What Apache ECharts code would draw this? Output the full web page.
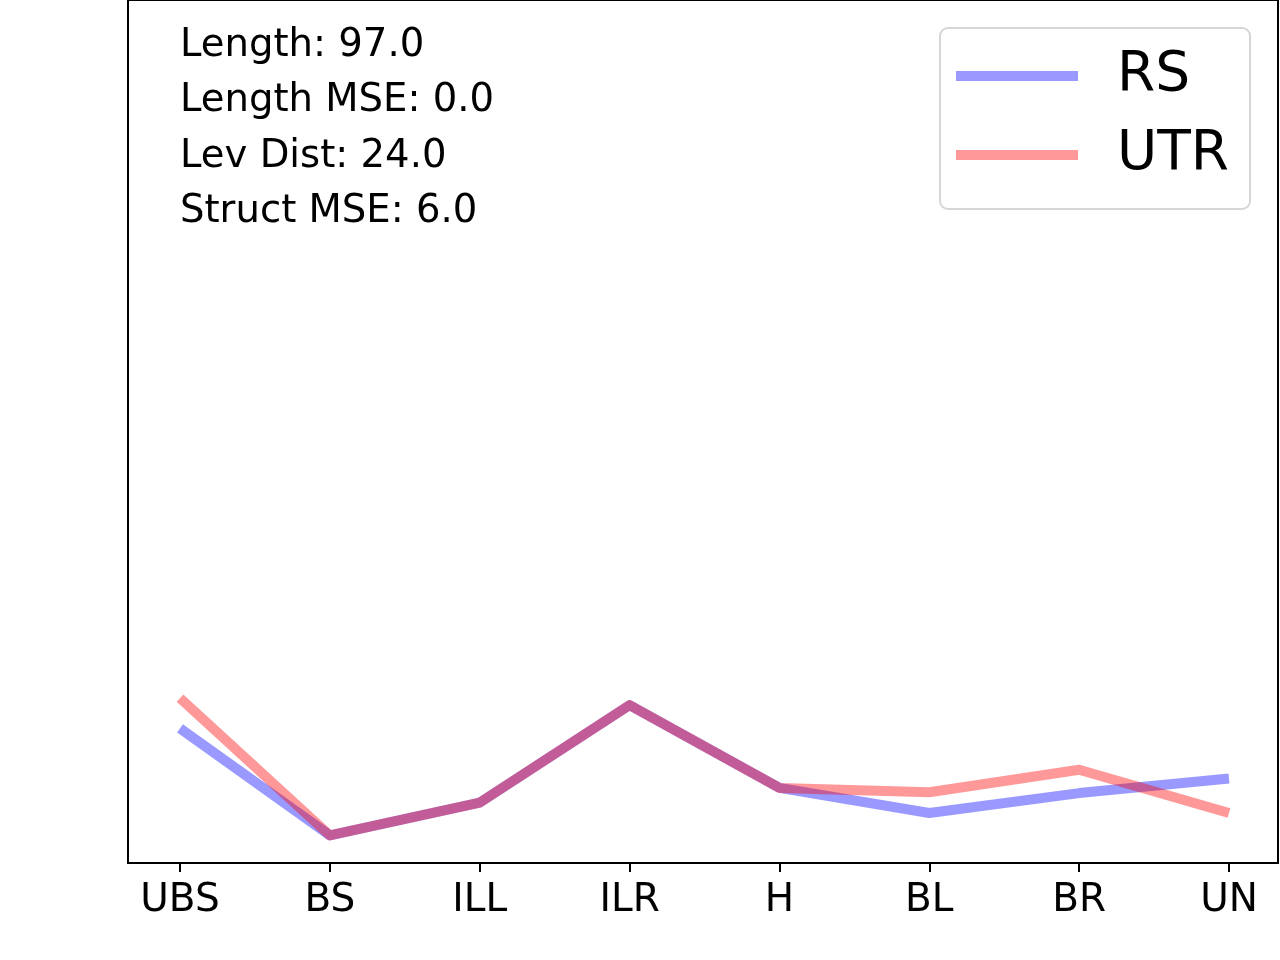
<!DOCTYPE html>
<html>
<head>
<meta charset="utf-8">
<script src="https://cdn.jsdelivr.net/npm/echarts@6/dist/echarts.min.js"></script>
<style>
html,body{margin:0;padding:0;background:#fff;}
#chart{width:1280px;height:960px;}
</style>
</head>
<body>
<div id="chart"></div>
<script>
const categories = ['UBS','BS','ILL','ILR','H','BL','BR','UN'];
const rsValues  = [15.6, 3.2, 7.0, 18.3, 8.7, 5.8, 8.1, 9.8];
const utrValues = [19.1, 3.2, 7.0, 18.3, 8.7, 8.2, 10.8, 5.8];
const annotationLines = ['Length: 97.0','Length MSE: 0.0','Lev Dist: 24.0','Struct MSE: 6.0'];

const FONT = 'DejaVu Sans';
const chart = echarts.init(document.getElementById('chart'));
chart.setOption({
  animation: false,
  backgroundColor: '#fff',
  textStyle: {fontFamily: FONT},
  title: {
    text: annotationLines.join('\n'),
    left: 180, top: 18, padding: 0,
    textStyle: {fontFamily: FONT, fontSize: 38.6, fontWeight: 'normal', color: '#000', lineHeight: 55.4}
  },
  legend: {
    orient: 'vertical',
    left: 940, top: 28,
    padding: [18, 21, 24, 16],
    itemWidth: 122, itemHeight: 10, itemGap: 19,
    icon: 'rect',
    backgroundColor: '#fff',
    borderColor: '#d6d6d6', borderWidth: 2, borderRadius: 8,
    textStyle: {fontFamily: FONT, fontSize: 55, color: '#000', lineHeight: 56, padding: [4,0,0,34]},
    data: [
      {name: 'RS', itemStyle: {color: '#9999ff'}},
      {name: 'UTR', itemStyle: {color: '#ff9999'}}
    ]
  },
  grid: [
    {left: 180, right: 51, top: 0, bottom: 97, containLabel: false},
    {left: 128, right: 2, top: 0, bottom: 97, show: true, borderColor: '#000', borderWidth: 2, backgroundColor: 'transparent', containLabel: false}
  ],
  xAxis: [
    {
      type: 'category', gridIndex: 0, data: categories, boundaryGap: false,
      axisLine: {show: false},
      axisTick: {show: true, length: 9, alignWithLabel: true, lineStyle: {color: '#000', width: 2}},
      axisLabel: {fontFamily: FONT, fontSize: 39, color: '#000', margin: 18, lineHeight: 39, interval: 0},
      splitLine: {show: false}
    },
    {type: 'value', gridIndex: 1, show: false, min: 0, max: 1}
  ],
  yAxis: [
    {type: 'value', gridIndex: 0, show: false, min: 0, max: 100, splitLine: {show: false}},
    {type: 'value', gridIndex: 1, show: false, min: 0, max: 1}
  ],
  series: [
    {
      name: 'RS', type: 'line', data: rsValues, xAxisIndex: 0, yAxisIndex: 0,
      symbol: 'none', color: '#9999ff',
      lineStyle: {color: '#0000ff', opacity: 0.4, width: 10, join: 'round', cap: 'butt'}
    },
    {
      name: 'UTR', type: 'line', data: utrValues, xAxisIndex: 0, yAxisIndex: 0,
      symbol: 'none', color: '#ff9999',
      lineStyle: {color: '#ff0000', opacity: 0.4, width: 10, join: 'round', cap: 'butt'}
    }
  ]
});
</script>
</body>
</html>
